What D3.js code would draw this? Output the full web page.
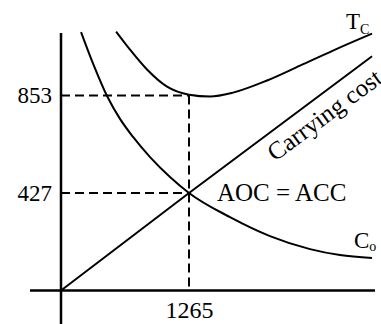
<!DOCTYPE html>
<html>
<head>
<meta charset="utf-8">
<script src="https://cdn.jsdelivr.net/npm/d3@7"></script>
<style>
  body { margin: 0; background: #fff; }
  text { font-family: "Liberation Serif", "Times New Roman", serif; fill: #000; }
</style>
</head>
<body>
<svg width="381" height="324"></svg>
<script>
// values (order quantity, cost)
var orderingCost = [[198,1131],[326,983],[455,851],[583,751],[712,672],[880,584],[1077,497],
    [1265,427],[1670,321],[2065,238],[2461,181],[2757,155],[3074,142]];
var totalCost = [[544,1133],[682,1054],[850,967],[1048,892],[1265,857],[1473,849],[1700,866],
    [2036,919],[2362,984],[2688,1050],[3074,1124]];
var carryingCost = [[0,0],[1265,427],[3074,1025]];
var yTicks = [427, 853];
var xTicks = [1265];
var eoq = 1265, aoc = 427, minTc = 853;

var svg = d3.select("svg");

var x = d3.scaleLinear()
    .domain([0, 3100])
    .range([61, 374.7]);

var y = d3.scaleLinear()
    .domain([0, 1140])
    .range([290.5, 30]);

var curve = d3.line()
    .curve(d3.curveMonotoneX)
    .x(function(d) { return x(d[0]); })
    .y(function(d) { return y(d[1]); });

var straight = d3.line()
    .x(function(d) { return x(d[0]); })
    .y(function(d) { return y(d[1]); });

// dashed guides
var guides = svg.append("g")
    .attr("stroke", "#000")
    .attr("stroke-width", 2)
    .attr("stroke-dasharray", "9,5")
    .attr("fill", "none");

guides.append("line")
    .attr("x1", x(0)).attr("x2", x(eoq))
    .attr("y1", y(minTc)).attr("y2", y(minTc));

guides.append("line")
    .attr("x1", x(0)).attr("x2", x(eoq))
    .attr("y1", y(aoc)).attr("y2", y(aoc));

guides.append("line")
    .attr("x1", x(eoq)).attr("x2", x(eoq))
    .attr("y1", y(minTc)).attr("y2", y(0));

// axis lines
svg.append("line")
    .attr("x1", 30).attr("x2", 375)
    .attr("y1", y(0)).attr("y2", y(0))
    .attr("stroke", "#000")
    .attr("stroke-width", 2.5);

svg.append("line")
    .attr("x1", x(0)).attr("x2", x(0))
    .attr("y1", 33).attr("y2", 324)
    .attr("stroke", "#000")
    .attr("stroke-width", 2.5);

// tick labels
var yAxis = d3.axisLeft(y).tickValues(yTicks).tickSize(0).tickPadding(9).tickFormat(d3.format("d"));
var yg = svg.append("g")
    .attr("transform", "translate(" + x(0) + ",0)")
    .call(yAxis);
yg.select(".domain").remove();
yg.selectAll("text")
    .style("font-family", "Liberation Serif")
    .attr("font-size", 23);

var xAxis = d3.axisBottom(x).tickValues(xTicks).tickSize(0).tickPadding(10).tickFormat(d3.format("d"));
var xg = svg.append("g")
    .attr("transform", "translate(0," + y(0) + ")")
    .call(xAxis);
xg.select(".domain").remove();
xg.selectAll("text")
    .style("font-family", "Liberation Serif")
    .attr("font-size", 24);

// curves
var curves = svg.append("g")
    .attr("fill", "none")
    .attr("stroke", "#000")
    .attr("stroke-width", 2);

curves.append("path").attr("d", curve(orderingCost));
curves.append("path").attr("d", curve(totalCost));
curves.append("path").attr("d", straight(carryingCost));

// labels
svg.append("text")
    .attr("x", x(eoq) + 28)
    .attr("y", y(aoc) + 8)
    .attr("font-size", 25)
    .text("AOC = ACC");

var tc = svg.append("text")
    .attr("x", 346)
    .attr("y", 29)
    .attr("font-size", 23)
    .text("T");
tc.append("tspan")
    .attr("font-size", 14)
    .attr("dy", 5)
    .text("C");

var co = svg.append("text")
    .attr("x", 354)
    .attr("y", 248)
    .attr("font-size", 23)
    .text("C");
co.append("tspan")
    .attr("font-size", 14)
    .attr("dy", 3)
    .text("o");

svg.append("text")
    .attr("transform", "translate(275,162) rotate(-36.5)")
    .attr("font-size", 25)
    .text("Carrying cost");
</script>
</body>
</html>
